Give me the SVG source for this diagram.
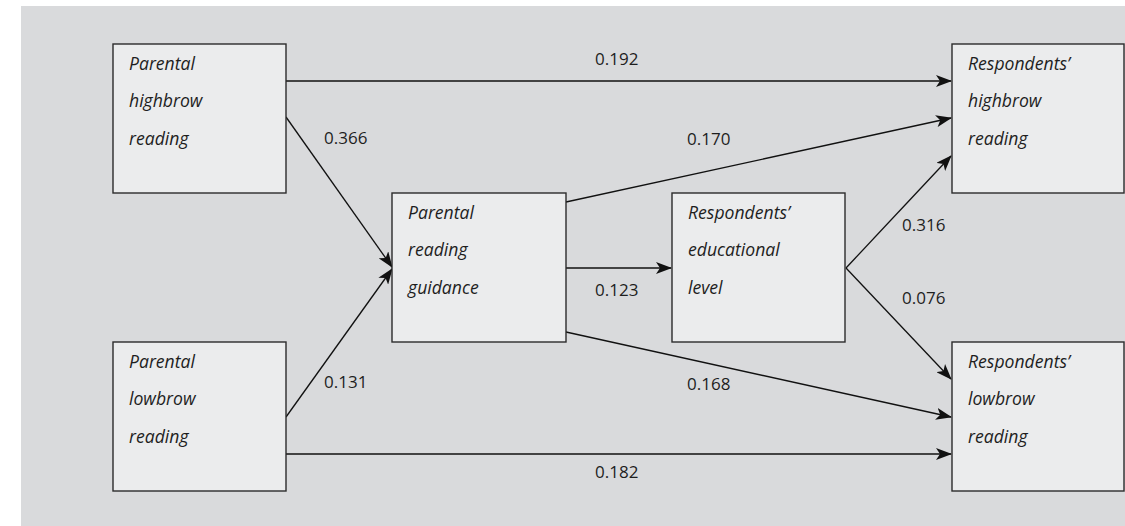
<svg xmlns="http://www.w3.org/2000/svg" width="1125" height="526" viewBox="0 0 1125 526">
<style>
.box{fill:#ebeced;stroke:#2b2b2b;stroke-width:1.4}
.t{font-family:"Open Sans","Noto Sans",sans-serif;font-style:italic;font-size:17.6px;fill:#1e1e1e}
.n{font-family:"Open Sans","Noto Sans",sans-serif;font-size:17px;fill:#1e1e1e}
.c{stroke:#111;stroke-width:1.3;fill:none;marker-end:url(#ah)}
</style>
<defs>
<marker id="ah" markerUnits="userSpaceOnUse" markerWidth="16" markerHeight="12" refX="15" refY="6" orient="auto" viewBox="0 0 16 12">
<path d="M0,0 L16,6 L0,12 L4,6 Z" fill="#111"/>
</marker>
</defs>
<rect x="21" y="6" width="1104" height="520" fill="#d9dadc"/>
<g id="connectors">
<line class="c" x1="286" y1="81" x2="951" y2="81"/>
<line class="c" x1="286" y1="117" x2="392" y2="267"/>
<line class="c" x1="286" y1="417" x2="392" y2="269"/>
<line class="c" x1="286" y1="454" x2="951" y2="454"/>
<line class="c" x1="566" y1="202" x2="951" y2="118"/>
<line class="c" x1="566" y1="268" x2="671" y2="268"/>
<line class="c" x1="566" y1="332" x2="951" y2="417"/>
<line class="c" x1="846" y1="268" x2="951" y2="156"/>
<line class="c" x1="846" y1="268" x2="951" y2="379"/>
<text class="n" x="595" y="65">0.192</text>
<text class="n" x="324" y="144">0.366</text>
<text class="n" x="687" y="145">0.170</text>
<text class="n" x="595" y="296">0.123</text>
<text class="n" x="902" y="231">0.316</text>
<text class="n" x="902" y="304">0.076</text>
<text class="n" x="324" y="388">0.131</text>
<text class="n" x="687" y="390">0.168</text>
<text class="n" x="595" y="478">0.182</text>
</g>
<g id="parental-highbrow">
<rect class="box" x="113" y="44" width="173" height="149"/>
<text class="t" x="129" y="70">Parental</text>
<text class="t" x="129" y="107">highbrow</text>
<text class="t" x="129" y="145">reading</text>
</g>
<g id="parental-lowbrow">
<rect class="box" x="113" y="342" width="173" height="149"/>
<text class="t" x="129" y="368">Parental</text>
<text class="t" x="129" y="405">lowbrow</text>
<text class="t" x="129" y="443">reading</text>
</g>
<g id="parental-guidance">
<rect class="box" x="392" y="193" width="174" height="149"/>
<text class="t" x="408" y="219">Parental</text>
<text class="t" x="408" y="256">reading</text>
<text class="t" x="408" y="294">guidance</text>
</g>
<g id="respondents-education">
<rect class="box" x="672" y="193" width="173" height="149"/>
<text class="t" x="688" y="219">Respondents’</text>
<text class="t" x="688" y="256">educational</text>
<text class="t" x="688" y="294">level</text>
</g>
<g id="respondents-highbrow">
<rect class="box" x="952" y="44" width="172" height="149"/>
<text class="t" x="968" y="70">Respondents’</text>
<text class="t" x="968" y="107">highbrow</text>
<text class="t" x="968" y="145">reading</text>
</g>
<g id="respondents-lowbrow">
<rect class="box" x="952" y="342" width="172" height="149"/>
<text class="t" x="968" y="368">Respondents’</text>
<text class="t" x="968" y="405">lowbrow</text>
<text class="t" x="968" y="443">reading</text>
</g>
</svg>
